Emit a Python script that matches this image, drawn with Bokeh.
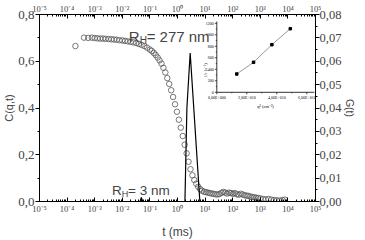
from bokeh.plotting import figure
from bokeh.models import (LinearAxis, LogAxis, Range1d, FixedTicker, CustomJSTickFormatter,
                          Label, LinearScale)
from bokeh.embed import file_html
from bokeh.resources import INLINE
from bokeh.core.properties import value
import math

# ---------------- data ----------------
t_ms = [2.0e-4, 4.1e-4, 5.8e-4, 7.9e-4, 1.0e-3, 1.26e-3, 1.58e-3, 2.0e-3, 2.5e-3, 3.2e-3,
        4.0e-3, 5.0e-3, 6.3e-3, 7.9e-3, 0.010, 0.0126, 0.0158, 0.020, 0.025, 0.032,
        0.040, 0.050, 0.063, 0.079, 0.100, 0.117, 0.138, 0.162, 0.191, 0.224,
        0.263, 0.309, 0.363, 0.427, 0.501, 0.589, 0.692, 0.813, 0.955, 1.12,
        1.32, 1.55, 1.82, 2.14, 2.51, 2.95, 3.47, 4.07, 4.79, 5.62,
        6.61, 7.76, 9.12, 10.7, 12.6, 14.8, 17.4, 20.4, 24.0, 28.2,
        33.1, 38.9, 45.7, 53.7, 63.1, 74.1, 87.1, 102, 120, 141,
        166, 195, 229, 269, 316, 372, 437, 513, 603, 708,
        832, 1000, 1259, 1585, 1995, 2512, 3162, 3981, 5012, 6310, 7762]
c_qt = [0.665, 0.701, 0.700, 0.701, 0.699, 0.698, 0.697, 0.697, 0.696, 0.695,
        0.694, 0.693, 0.692, 0.690, 0.689, 0.687, 0.685, 0.683, 0.681, 0.678,
        0.674, 0.670, 0.665, 0.658, 0.650, 0.644, 0.636, 0.627, 0.616, 0.604,
        0.590, 0.572, 0.552, 0.528, 0.503, 0.476, 0.447, 0.416, 0.384, 0.350,
        0.316, 0.280, 0.243, 0.206, 0.170, 0.138, 0.112, 0.092, 0.076, 0.063,
        0.053, 0.046, 0.042, 0.040, 0.038, 0.036, 0.034, 0.033, 0.031, 0.030,
        0.032, 0.037, 0.041, 0.038, 0.034, 0.038, 0.036, 0.033, 0.036, 0.031,
        0.029, 0.033, 0.030, 0.027, 0.025, 0.024, 0.021, 0.019, 0.018, 0.016,
        0.015, 0.013, 0.011, 0.009, 0.011, 0.008, 0.006, 0.005, 0.004, 0.006, 0.008]

g_t_ms = [1e-5, 0.044, 0.049, 0.055, 1.86, 2.19, 2.88, 6.46, 1e5]
g_t = [0.0, 0.0, 0.0017, 0.0, 0.0, 0.040, 0.0635, 0.0, 0.0]

inset_q2 = [1.33e10, 2.45e10, 3.67e10, 4.90e10]
inset_rate = [318, 522, 828, 1106]

x_decades = list(range(-5, 6))
c_ticks = [0.0, 0.2, 0.4, 0.6, 0.8]
c_minor = [0.1, 0.3, 0.5, 0.7]
g_ticks = [0.00, 0.01, 0.02, 0.03, 0.04, 0.05, 0.06, 0.07, 0.08]
g_minor = [0.005, 0.015, 0.025, 0.035, 0.045, 0.055, 0.065, 0.075]
inset_y_ticks = [0, 200, 400, 600, 800, 1000, 1200]
inset_y_minor = [100, 300, 500, 700, 900, 1100]
inset_x_ticks = [0, 2e10, 4e10, 6e10]
inset_x_minor = [1e10, 3e10, 5e10]
inset_x_labels = ["0,00E+000", "2,00E+010", "4,00E+010", "6,00E+010"]

# ---------------- layout constants ----------------
FW, FH = 276, 187          # frame size in px
IX_PER_PX = 2e10 / 30.0
IY_PER_PX = 200 / 11.5
IX0, IX1 = -177.3 * IX_PER_PX, (FW - 177.3) * IX_PER_PX
IY0, IY1 = -(FH - 77.8) * IY_PER_PX, 77.8 * IY_PER_PX
IX_AX_END = 6.5e10
IY_AX_END = 1230

SERIF = "Liberation Serif"
SANS = "Liberation Sans"

p = figure(frame_width=FW, frame_height=FH, x_axis_type="log",
           x_range=Range1d(1e-5, 1e5), y_range=Range1d(0, 0.8),
           output_backend="svg", toolbar_location=None,
           min_border_left=34, min_border_right=47, min_border_top=11, min_border_bottom=4)
p.extra_y_ranges = {"g": Range1d(0, 0.08), "iy": Range1d(IY0, IY1)}
p.extra_x_ranges = {"ix": Range1d(IX0, IX1)}
p.extra_x_scales = {"ix": LinearScale()}
p.extra_y_scales = {"iy": LinearScale(), "g": LinearScale()}
p.grid.visible = False
p.outline_line_color = "black"
p.outline_line_width = 1
p.background_fill_color = "white"
p.border_fill_color = "white"

log_code = """
const sup = {'-':'\u207b','0':'\u2070','1':'\u00b9','2':'\u00b2','3':'\u00b3','4':'\u2074',
             '5':'\u2075','6':'\u2076','7':'\u2077','8':'\u2078','9':'\u2079'};
const e = Math.round(Math.log10(tick));
return '10' + String(e).split('').map(c => sup[c]).join('');
"""
x_major = [10.0 ** k for k in x_decades]
x_minor = [m * 10.0 ** k for k in x_decades[:-1] for m in range(2, 10)]


def style_x(ax):
    ax.ticker = FixedTicker(ticks=x_major, minor_ticks=x_minor)
    ax.formatter = CustomJSTickFormatter(code=log_code)
    ax.major_label_text_font = SERIF
    ax.major_label_text_font_size = "8.5px"
    ax.major_label_standoff = 2
    ax.major_tick_in = 4
    ax.major_tick_out = 0
    ax.minor_tick_in = 2
    ax.minor_tick_out = 0
    ax.axis_line_color = "black"


bx = p.xaxis[0]
style_x(bx)
bx.axis_label = "t (ms)"
bx.axis_label_text_font = SANS
bx.axis_label_text_font_style = "normal"
bx.axis_label_text_font_size = "12px"
bx.axis_label_standoff = 8

tx = LogAxis()
style_x(tx)
tx.major_label_standoff = 1
p.add_layout(tx, "above")

ly = p.yaxis[0]
ly.ticker = FixedTicker(ticks=c_ticks, minor_ticks=c_minor)
ly.formatter = CustomJSTickFormatter(code="return tick.toFixed(1).replace('.', ',');")
ly.major_label_text_font = SERIF
ly.major_label_text_font_size = "13px"
ly.major_label_standoff = 1
ly.major_tick_in = 0
ly.major_tick_out = 4
ly.minor_tick_in = 0
ly.minor_tick_out = 2
ly.axis_label = "C(q,t)"
ly.axis_label_text_font = SANS
ly.axis_label_text_font_style = "normal"
ly.axis_label_text_font_size = "11px"
ly.axis_label_standoff = 0

ry = LinearAxis(y_range_name="g")
ry.ticker = FixedTicker(ticks=g_ticks, minor_ticks=g_minor)
ry.formatter = CustomJSTickFormatter(code="return tick.toFixed(2).replace('.', ',');")
ry.major_label_text_font = SERIF
ry.major_label_text_font_size = "12.5px"
ry.major_label_standoff = 0
ry.major_tick_in = 0
ry.major_tick_out = 4
ry.minor_tick_in = 0
ry.minor_tick_out = 2
ry.axis_label = "G(t)"
ry.axis_label_text_font = SANS
ry.axis_label_text_font_style = "normal"
ry.axis_label_text_font_size = "10.5px"
ry.axis_label_standoff = 0
p.add_layout(ry, "right")

# ---------------- main data ----------------
p.scatter(t_ms, c_qt, marker="circle", size=5.5, fill_color=None,
          line_color="#555555", line_width=0.8)
p.line(g_t_ms, g_t, y_range_name="g", line_color="black", line_width=1.2)

# ---------------- annotations ----------------
def rh_label(x, y, size, hsize, hdx, hdy, rest, restdx):
    p.add_layout(Label(x=x, y=y, text="R", text_font=SANS, text_font_size=f"{size}px",
                       text_baseline="alphabetic"))
    p.add_layout(Label(x=x, y=y, text="H", text_font=SANS, text_font_size=f"{hsize}px",
                       text_baseline="alphabetic", x_offset=hdx, y_offset=hdy))
    p.add_layout(Label(x=x, y=y, text=rest, text_font=SANS, text_font_size=f"{size}px",
                       text_baseline="alphabetic", x_offset=restdx))


rh_label(0.01726, 0.707, 15, 10, 10.8, -4, "= 277 nm", 17.8)
rh_label(0.00427, 0.046, 13.5, 9, 9.7, -3.5, "= 3 nm", 16.0)

# ---------------- inset ----------------
ir = dict(x_range_name="ix", y_range_name="iy")
p.segment(x0=[0, 0], y0=[0, 0], x1=[0, IX_AX_END], y1=[IY_AX_END, 0],
          line_color="black", line_width=0.8, **ir)
p.segment(x0=[-2 * IX_PER_PX] * len(inset_y_ticks), y0=inset_y_ticks,
          x1=[0] * len(inset_y_ticks), y1=inset_y_ticks, line_color="black", line_width=0.7, **ir)
p.segment(x0=[-1 * IX_PER_PX] * len(inset_y_minor), y0=inset_y_minor,
          x1=[0] * len(inset_y_minor), y1=inset_y_minor, line_color="black", line_width=0.7, **ir)
p.segment(x0=inset_x_ticks, y0=[-2 * IY_PER_PX] * len(inset_x_ticks),
          x1=inset_x_ticks, y1=[0] * len(inset_x_ticks), line_color="black", line_width=0.7, **ir)
p.segment(x0=inset_x_minor, y0=[-1 * IY_PER_PX] * len(inset_x_minor),
          x1=inset_x_minor, y1=[0] * len(inset_x_minor), line_color="black", line_width=0.7, **ir)
p.text(x=[0] * len(inset_y_ticks), y=inset_y_ticks, text=[str(v) for v in inset_y_ticks],
       x_offset=-3, text_align="right", text_baseline="middle",
       text_font=value(SERIF), text_font_size="4px", text_color="black", **ir)
p.text(x=inset_x_ticks, y=[0] * len(inset_x_ticks), text=inset_x_labels,
       y_offset=3, text_align="center", text_baseline="top",
       text_font=value(SERIF), text_font_size="4px", text_color="black", **ir)
p.text(x=[-7.5e9], y=[380], text=["1/\u03c4 (s\u207b\u00b9)"], angle=math.pi / 2,
       text_align="center", text_baseline="middle",
       text_font=value(SERIF), text_font_size="4.5px", text_color="black", **ir)
p.text(x=[3.25e10], y=[-240], text=["q\u00b2 (cm\u207b\u00b2)"],
       text_align="center", text_baseline="middle",
       text_font=value(SERIF), text_font_size="4.5px", text_color="black", **ir)
p.line(inset_q2, inset_rate, line_color="#9a9a9a", line_width=1, **ir)
p.scatter(inset_q2, inset_rate, marker="square", size=2.5, color="black", **ir)

open("out.html", "w").write(file_html(p, INLINE))
